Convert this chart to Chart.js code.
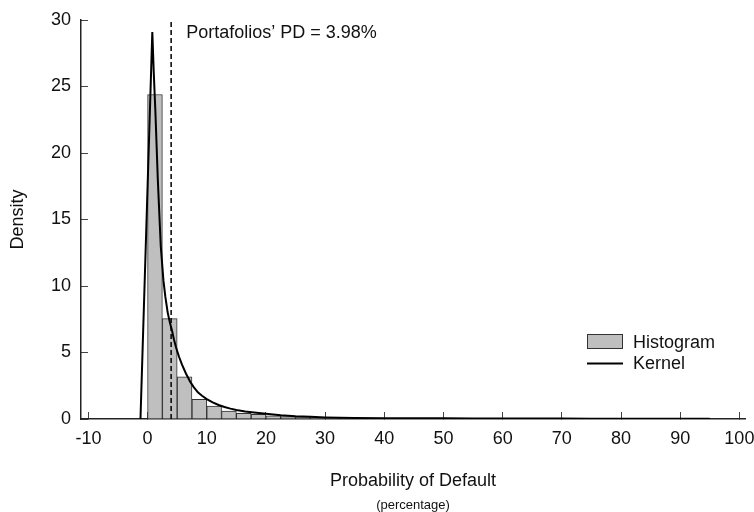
<!DOCTYPE html>
<html><head><meta charset="utf-8">
<script src="https://cdn.jsdelivr.net/npm/chart.js@4.4.0/dist/chart.umd.min.js"></script>
<style>html,body{margin:0;padding:0;background:#fff;}#wrap{width:754px;height:512px;position:relative;}</style>
</head><body><div id="wrap"><canvas id="c" width="754" height="512" style="width:754px;height:512px;"></canvas></div>
<script>
// ---- data ----
const binCenters = [1.25,3.75,6.25,8.75,11.25,13.75,16.25,18.75,21.25,23.75,26.25,28.75,31.25,33.75,36.25,38.75,41.25,43.75,46.25,48.75,51.25,53.75,56.25,58.75,61.25,63.75,66.25,68.75,71.25,73.75,76.25,78.75,81.25,83.75,86.25,88.75,91.25,93.75];
const histDensity = [24.4,7.55,3.18,1.48,0.98,0.6,0.42,0.36,0.24,0.18,0.14,0.11,0.08,0.07,0.06,0.05,0.05,0.04,0.05,0.05,0.04,0.03,0.03,0.04,0.04,0.03,0.02,0.03,0.02,0.02,0.02,0.02,0.02,0.01,0.02,0.02,0.02,0.01];
const kernelX = [-1.2,0.8,1.05,1.33,1.73,2.23,2.68,3.0,3.4,3.75,4.1,4.45,4.8,5.3,5.8,6.5,7.2,7.8,8.5,9.2,10,11,12,13,14,15,16.5,18,20,22.5,25,27.5,30,35,40,45,50,55,60,65,70,75,80,85,90,95];
const kernelY = [0,29.1,26,23,18,13,10.4,9.2,8.0,7.3,6.7,6.0,5.4,4.7,4.1,3.4,2.8,2.4,2.0,1.75,1.5,1.25,1.05,0.9,0.78,0.68,0.57,0.49,0.4,0.29,0.21,0.16,0.12,0.08,0.06,0.05,0.05,0.04,0.04,0.03,0.03,0.02,0.02,0.02,0.02,0.01];
const portfolioPD = 3.98;
const xTicks = [-10,0,10,20,30,40,50,60,70,80,90,100];
const yTicks = [0,5,10,15,20,25,30];
const seriesNames = ['Histogram','Kernel'];
const xTitle = 'Probability of Default';
const xSubTitle = '(percentage)';
const yTitle = 'Density';
const pdLabel = 'Portafolios\u2019 PD = 3.98%';

const FONT = "'Liberation Sans', Arial, Helvetica, sans-serif";
Chart.defaults.font.family = FONT;
Chart.defaults.font.size = 18;
Chart.defaults.color = '#111';

const histData = binCenters.map((x,i)=>({x:x,y:histDensity[i]}));
const kernelData = kernelX.map((x,i)=>({x:x,y:kernelY[i]}));
const pdData = [{x:portfolioPD,y:0},{x:portfolioPD,y:30}];

const extras = {
  id:'extras',
  afterDatasetsDraw(chart){
    const ctx = chart.ctx, xs = chart.scales.x, ca = chart.chartArea;
    ctx.save();
    ctx.fillStyle = '#111';
    ctx.font = '18px ' + FONT;
    ctx.textAlign = 'left';
    ctx.textBaseline = 'alphabetic';
    ctx.fillText(pdLabel, xs.getPixelForValue(portfolioPD) + 15, ca.top + 18);
    // legend
    const lx = 587, ly = 334;
    ctx.fillStyle = '#bfbfbf';
    ctx.strokeStyle = '#333';
    ctx.lineWidth = 1;
    ctx.fillRect(lx, ly, 36, 15);
    ctx.strokeRect(lx+0.5, ly+0.5, 35, 14);
    ctx.strokeStyle = '#000';
    ctx.lineWidth = 2;
    ctx.beginPath(); ctx.moveTo(lx, 363.5); ctx.lineTo(lx+36, 363.5); ctx.stroke();
    ctx.fillStyle = '#111';
    ctx.textBaseline = 'middle';
    ctx.fillText(seriesNames[0], 633, 343);
    ctx.fillText(seriesNames[1], 633, 364);
    // sub title
    ctx.font = '13px ' + FONT;
    ctx.textAlign = 'center';
    ctx.fillText(xSubTitle, (ca.left+ca.right)/2, 505);
    ctx.restore();
  }
};

new Chart(document.getElementById('c'), {
  type: 'bar',
  data: {
    datasets: [
      {type:'line', label:seriesNames[1], data:kernelData, borderColor:'#000', borderWidth:2, pointRadius:0, tension:0, fill:false, order:0},
      {type:'line', label:'PD', data:pdData, borderColor:'#000', borderWidth:1.5, borderDash:[5,3], pointRadius:0, fill:false, order:1},
      {type:'bar', label:seriesNames[0], data:histData, backgroundColor:'#bfbfbf', borderColor:'#333', borderWidth:1, barPercentage:1, categoryPercentage:1, order:2}
    ]
  },
  plugins:[extras],
  options: {
    responsive:false,
    animation:false,
    devicePixelRatio:1,
    layout:{padding:{left:0,top:20,right:9,bottom:0}},
    plugins:{legend:{display:false}, tooltip:{enabled:false}},
    scales:{
      x:{
        type:'linear', min:-11.25, max:100.95, offset:false,
        afterBuildTicks(s){ s.ticks = xTicks.map(v=>({value:v})); },
        afterFit(s){ s.height = 93; s.paddingLeft = 0; s.paddingRight = 0; },
        border:{color:'#222', width:1.5},
        grid:{drawOnChartArea:false, offset:false, tickLength:-7, color:'#444', lineWidth:1},
        ticks:{padding:16, maxRotation:0, autoSkip:false, color:'#111', font:{size:18}},
        title:{display:true, text:xTitle, font:{size:18}, color:'#111', padding:{top:0,bottom:20}}
      },
      y:{
        type:'linear', min:0, max:30,
        afterBuildTicks(s){ s.ticks = yTicks.map(v=>({value:v})); },
        afterFit(s){ s.width = 81; s.paddingTop = 0; s.paddingBottom = 0; },
        border:{color:'#222', width:1.5},
        grid:{drawOnChartArea:false, tickLength:-7, color:'#444', lineWidth:1},
        ticks:{padding:17, color:'#111', font:{size:18}},
        title:{display:true, text:yTitle, font:{size:18}, color:'#111', padding:{top:7,bottom:0}}
      }
    }
  }
});
</script></body></html>
